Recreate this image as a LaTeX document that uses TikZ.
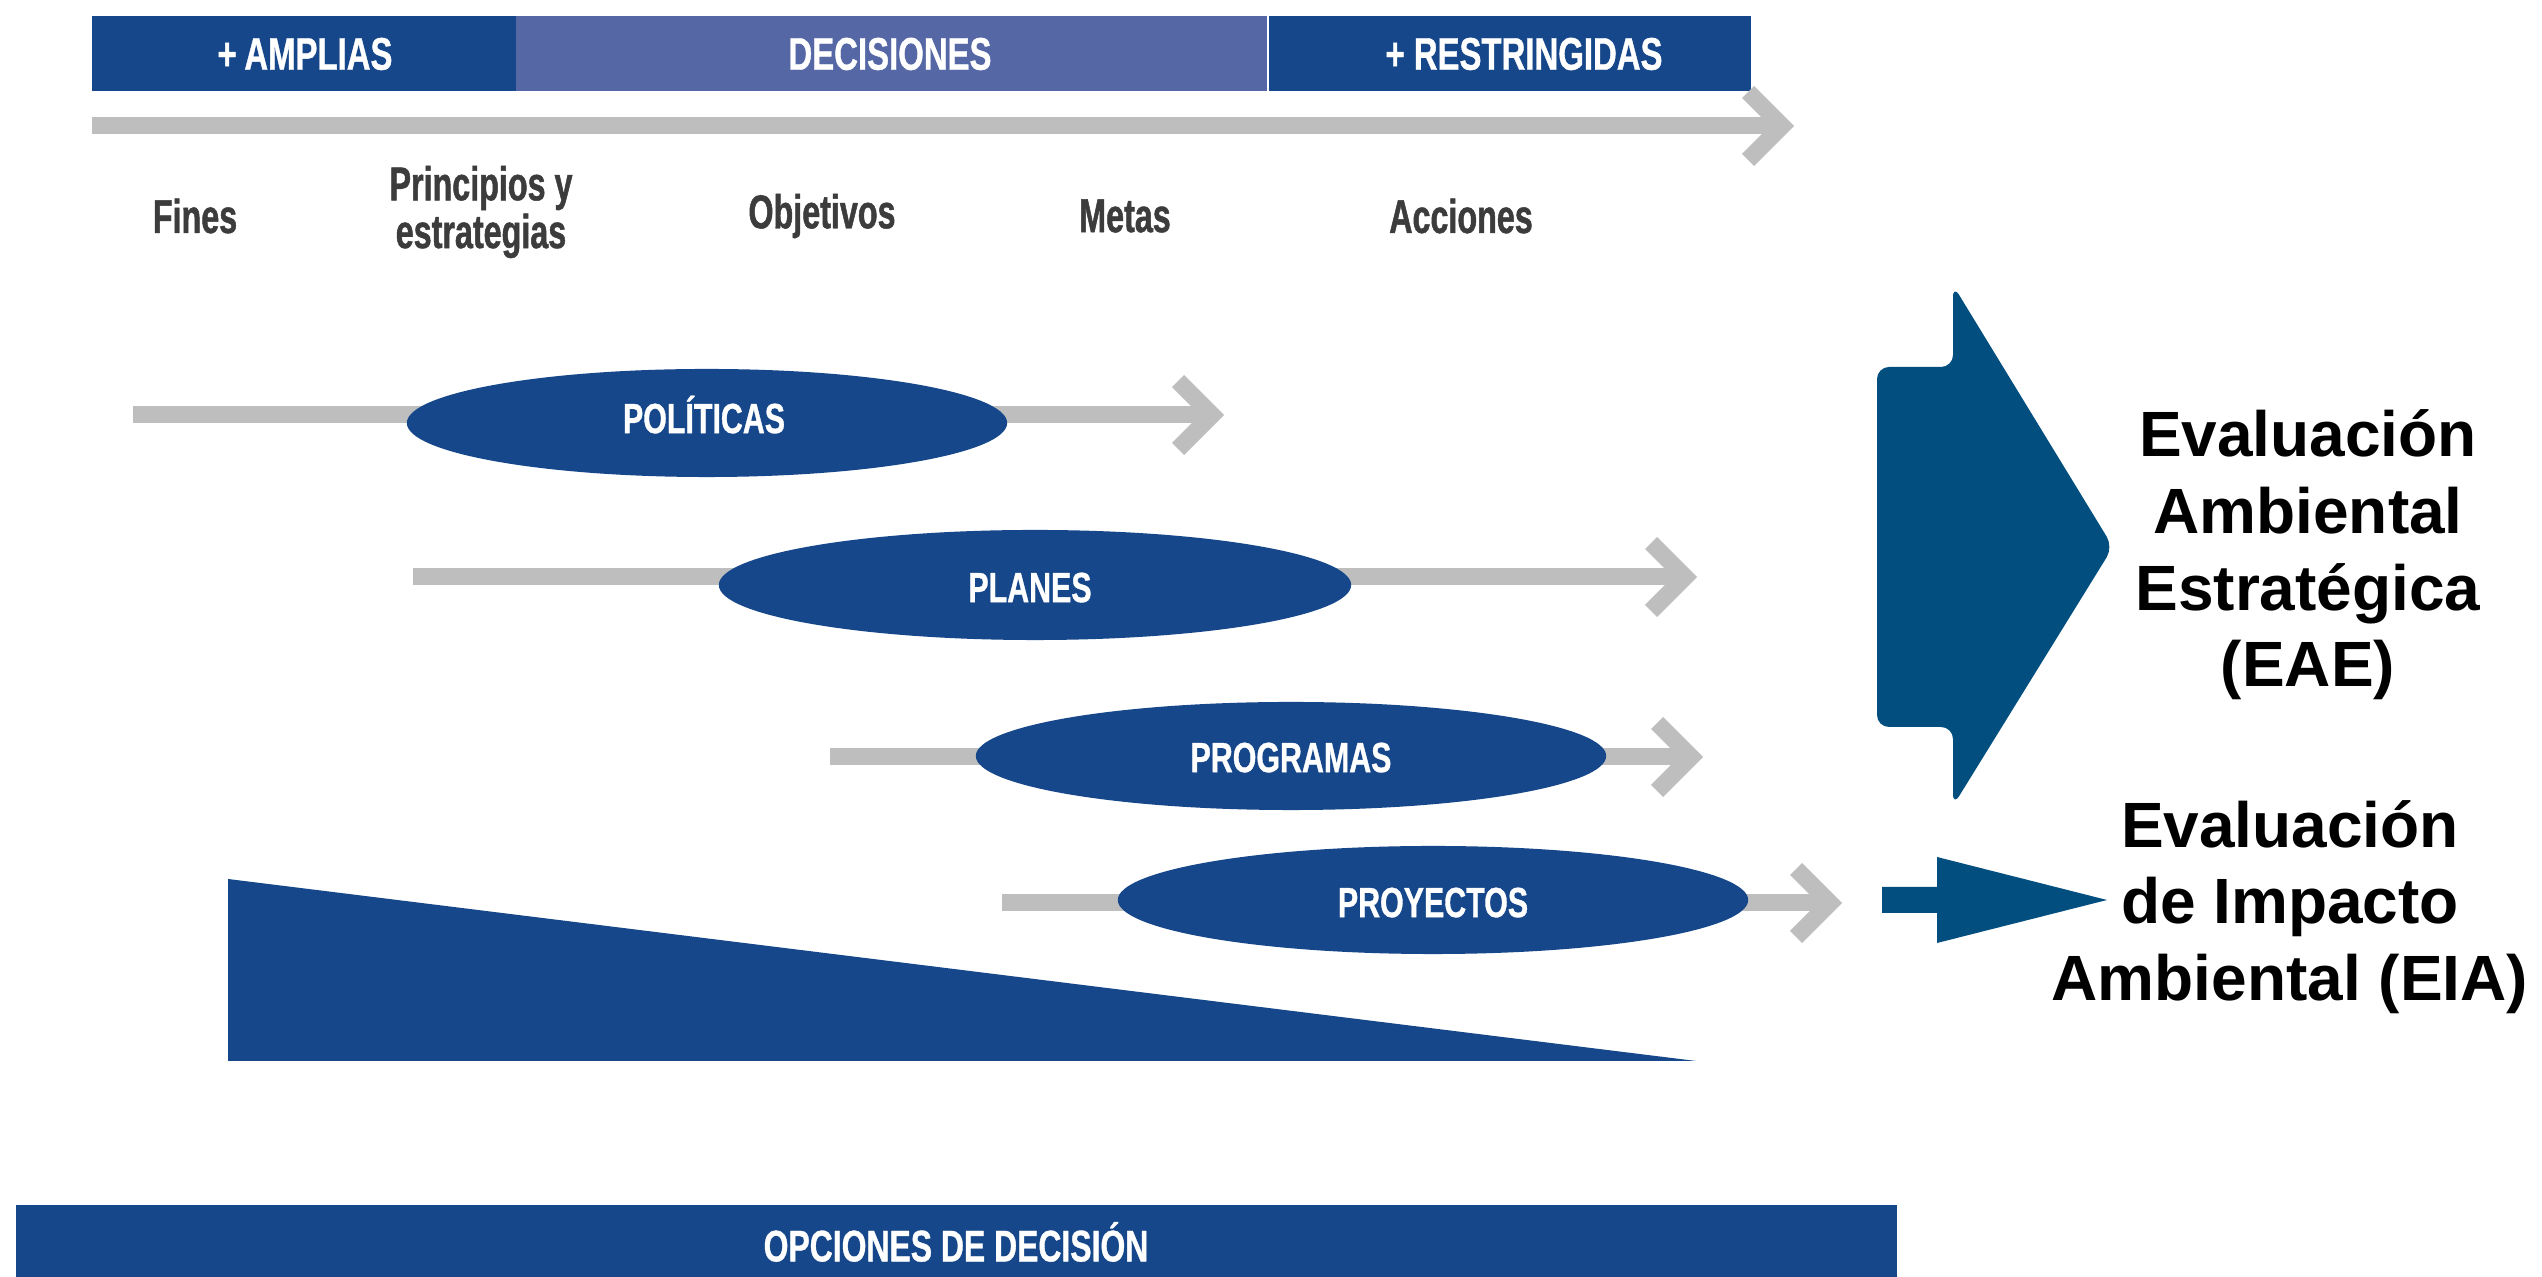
\documentclass[tikz,border=0pt]{standalone}
\usepackage{fontspec}
\setmainfont{Liberation Sans}
\newfontfamily\condf[FakeStretch=0.72,FakeBold=0.8]{Liberation Sans Bold}
\newfontfamily\condl[FakeStretch=0.68,FakeBold=1]{Liberation Sans Bold}
\usetikzlibrary{shapes.geometric}
\definecolor{dblue}{HTML}{16478A}
\definecolor{mblue}{HTML}{5667A6}
\definecolor{gline}{HTML}{BEBEBE}
\definecolor{arrowblue}{HTML}{024F7F}
\definecolor{labgray}{HTML}{3C3C3C}
\begin{document}
\begin{tikzpicture}[x=0.01cm,y=-0.01cm,
  shaft/.style={gline, line width=0.17cm},
  chev/.pic={\draw[gline, line width=0.17cm, line join=miter] (-46,-34) -- (-12,0) -- (-46,34);},
  ell/.style={ellipse, fill=dblue, inner sep=0pt, text=white, font=\condf\fontsize{12}{14}\selectfont},
  elltxt/.style={text=white, font=\condf\fontsize{12}{14}\selectfont, inner sep=0pt, text height=8.6pt, text depth=0pt},
  barlab/.style={text=white, font=\condf\fontsize{13}{15}\selectfont, inner sep=0pt},
  toplab/.style={text=labgray, font=\condl\fontsize{13.5}{10.6}\selectfont, align=center, inner sep=0pt},
  bigtxt/.style={font=\bfseries\fontsize{18.2}{21.8}\selectfont, align=center, inner sep=0pt}
]
\useasboundingbox (0,0) rectangle (2542,1277);
\fill[white] (0,0) rectangle (2542,1277);

% top bar
\fill[dblue] (92,16) rectangle (516,91);
\fill[mblue] (516,16) rectangle (1267,91);
\fill[dblue] (1269,16) rectangle (1751,91);
\node[barlab] (amplias) at (305,54) {+\,AMPLIAS};
\node[barlab] (decisiones) at (890,54) {DECISIONES};
\node[barlab] (restr) at (1524,54) {+ RESTRINGIDAS};

% top gray arrow
\coordinate (t0) at (92,126);
\coordinate (t1) at (1794,126);
\draw[shaft] (t0) -- ([xshift=-0.14cm]t1);
\pic at (t1) {chev};

% labels
\node[toplab] (fines) at (195,216) {Fines};
\node[toplab] (princ) at (481,212) {Principios y\\estrategias};
\node[toplab] (obj) at (822,216) {Objetivos};
\node[toplab] (metas) at (1125,216) {Metas};
\node[toplab] (acc) at (1461,216) {Acciones};

% row arrows
\coordinate (p0) at (133,415); \coordinate (p1) at (1224,415);
\coordinate (l0) at (413,577); \coordinate (l1) at (1697,577);
\coordinate (g0) at (830,757); \coordinate (g1) at (1703,757);
\coordinate (y0) at (1002,903); \coordinate (y1) at (1842,903);
\foreach \a/\b in {p0/p1,l0/l1,g0/g1,y0/y1}{
  \draw[shaft] (\a) -- ([xshift=-0.14cm]\b);
  \pic at (\b) {chev};
}

% ellipses
\node[ell, minimum width=6.0cm, minimum height=1.08cm] (politicas) at (707,423) {};
\node[ell, minimum width=6.32cm, minimum height=1.1cm] (planes) at (1035,585) {};
\node[ell, minimum width=6.3cm, minimum height=1.08cm] (programas) at (1291,756) {};
\node[ell, minimum width=6.3cm, minimum height=1.08cm] (proyectos) at (1433,900) {};
\node[elltxt] (tpol) at (704,418) {POLÍTICAS};
\node[elltxt] (tpla) at (1030,587) {PLANES};
\node[elltxt] (tpro) at (1291,757) {PROGRAMAS};
\node[elltxt] (tpry) at (1433,902) {PROYECTOS};

% triangle
\fill[dblue] (228,879) -- (228,1061) -- (1696,1061) -- cycle;

% bottom bar
\fill[dblue] (16,1205) rectangle (1897,1277);
\node[text=white, font=\condf\fontsize{12.6}{14}\selectfont, inner sep=0pt] (opciones) at (956,1242) {OPCIONES DE DECISIÓN};

% big right arrow
\fill[arrowblue, rounded corners=0.12cm] (1877,367) -- (1953,367) -- (1953,285) -- (2113,547) -- (1953,806) -- (1953,727) -- (1877,727) -- cycle;
% small right arrow
\fill[arrowblue] (1882,887) -- (1937,887) -- (1937,857) -- (2107,900) -- (1937,943) -- (1937,913) -- (1882,913) -- cycle;

\node[bigtxt] (eae) at (2308,555) {Evaluación\\Ambiental\\Estratégica\\(EAE)};
\node[bigtxt] (eia) at (2290,907) {Evaluación\\de Impacto\\Ambiental (EIA)};
\end{tikzpicture}
\end{document}
